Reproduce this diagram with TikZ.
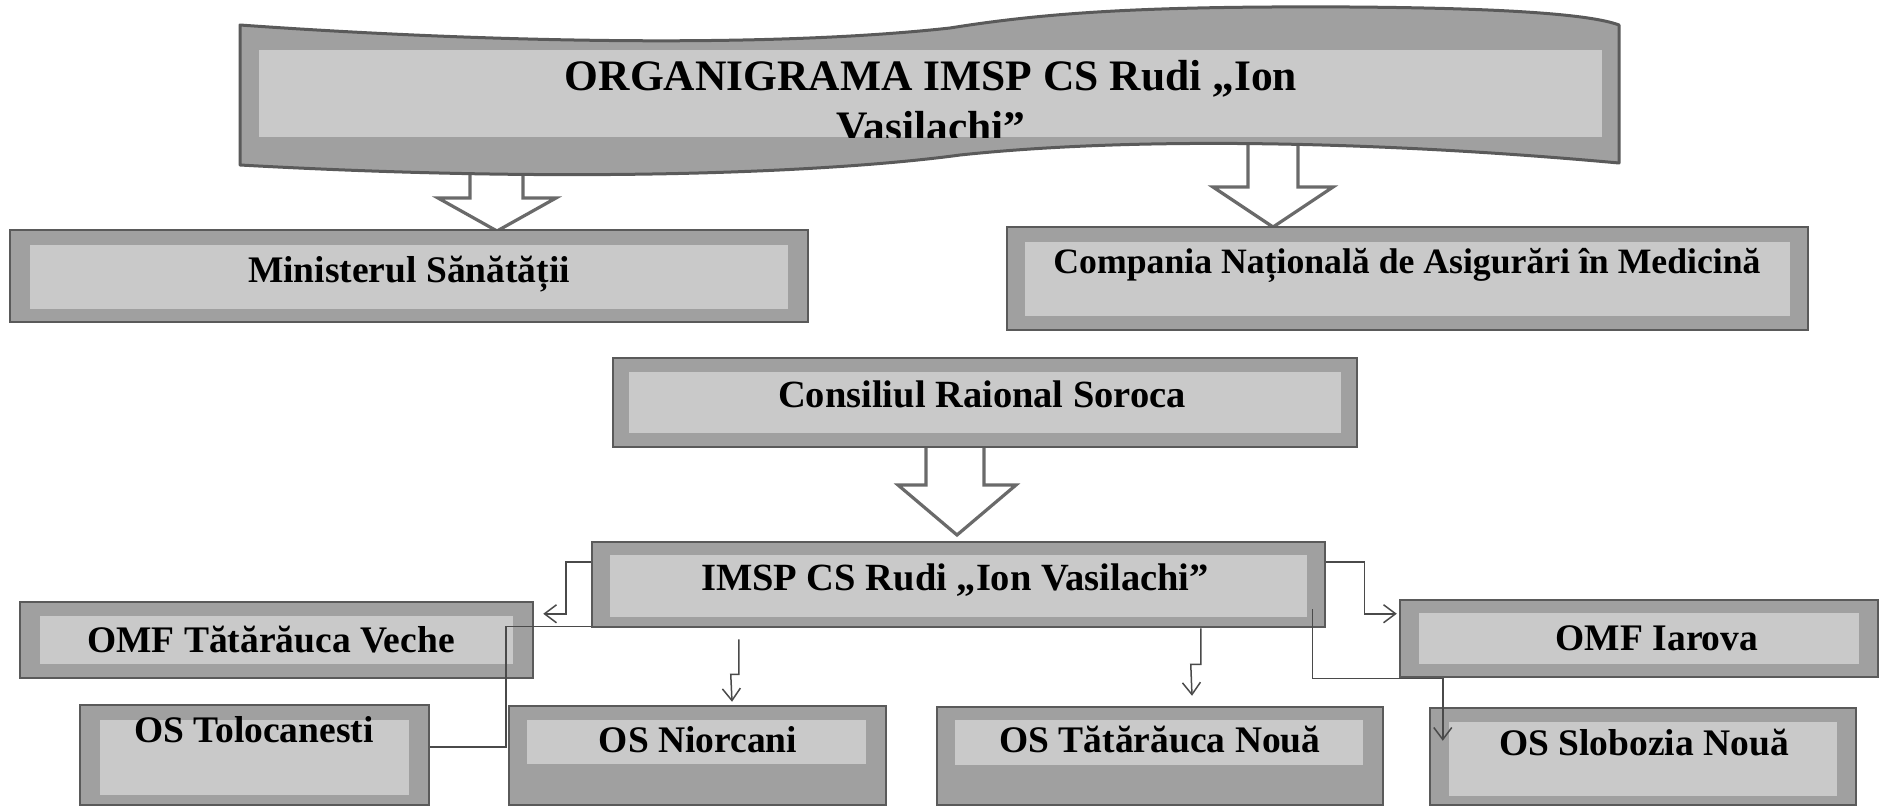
\documentclass[tikz,border=0pt]{standalone}
\usepackage{fontspec}
\setmainfont{Liberation Serif}
\usetikzlibrary{arrows.meta,fit}
\definecolor{frameout}{HTML}{A0A0A0}
\definecolor{framein}{HTML}{C9C9C9}
\definecolor{frameline}{HTML}{5A5A5A}
\definecolor{arrowline}{HTML}{6A6A6A}
\definecolor{connline}{HTML}{4A4A4A}
\tikzset{
 box/.style={draw=frameline, line width=2.5pt, fill=frameout, inner sep=0pt, rectangle},
 band/.style={fill=framein},
 lbl/.style={font=\fontsize{37.5}{40}\selectfont\bfseries, inner sep=0pt, anchor=base, text=black},
 lblbig/.style={lbl, font=\fontsize{38.5}{41}\selectfont\bfseries},
 lblsmall/.style={lbl, font=\fontsize{35.7}{38}\selectfont\bfseries},
 ttl/.style={font=\fontsize{43.5}{46}\selectfont\bfseries, inner sep=0pt, anchor=base, text=black},
 blockarrow/.style={draw=arrowline, line width=3.2pt, fill=white, line join=miter},
 conn/.style={draw=connline, line width=1.5pt},
 arrowend/.style={-{Straight Barb[length=12pt,width=18pt]}},
}
\begin{document}
\begin{tikzpicture}[x=1pt,y=-1pt]
\useasboundingbox (0,0) rectangle (1901,809);
\fill[white] (0,0) rectangle (1901,809);

% hollow block arrows (drawn first, boxes cover their tops)
\draw[blockarrow] (470,150) -- (523,150) -- (523,198) -- (556,198) -- (497,231) -- (438,198) -- (470,198) -- cycle;
\draw[blockarrow] (1248,130) -- (1298,130) -- (1298,187) -- (1333,187) -- (1273,227) -- (1213,187) -- (1248,187) -- cycle;
\draw[blockarrow] (926,440) -- (984,440) -- (984,485) -- (1016,485) -- (957,535) -- (898,485) -- (926,485) -- cycle;

% title banner (wave)
\draw[fill=frameout, draw=frameline, line width=3pt, line join=round]
  (240,25) .. controls (450,40) and (750,50) .. (950,28)
  .. controls (1050,12) and (1150,6) .. (1350,7)
  .. controls (1500,8) and (1590,14) .. (1619,25)
  -- (1619,163)
  .. controls (1400,143) and (1150,135) .. (960,155)
  .. controls (850,170) and (600,185) .. (240,165) -- cycle;
\fill[band] (259,50) rectangle (1602,137);
\begin{scope}
\clip (240,0) rectangle (1619,137);
\node[ttl] (title1) at (931,90) {ORGANIGRAMA IMSP CS Rudi „Ion};
\node[ttl] (title2) at (931,141) {Vasilachi”};
\end{scope}

% Ministerul
\node[box, fit={(10,230) (808,322)}] (min) {};
\fill[band] (30,245) rectangle (788,309);
\node[lbl] (tmin) at (409,282) {Ministerul Sănătății};

% Compania
\node[box, fit={(1007,227) (1808,330)}] (cnam) {};
\fill[band] (1025,242) rectangle (1790,316);
\node[lblsmall] (tcnam) at (1407,273) {Compania Națională de Asigurări în Medicină};

% Consiliul
\node[box, fit={(613,358) (1357,447)}] (cons) {};
\fill[band] (629,372) rectangle (1341,433);
\node[lblbig] (tcons) at (982,407) {Consiliul Raional Soroca};

% IMSP
\node[box, fit={(592,542) (1325,627)}] (imsp) {};
\fill[band] (610,555) rectangle (1307,617);
\node[lblbig] (timsp) at (955,590) {IMSP CS Rudi „Ion Vasilachi”};

% OMF Tatarauca Veche
\node[box, fit={(20,602) (533,678)}] (omfv) {};
\fill[band] (40,616) rectangle (513,664);
\node[lbl] (tomfv) at (271,652) {OMF Tătărăuca Veche};

% OMF Iarova
\node[box, fit={(1400,600) (1878,677)}] (omfi) {};
\fill[band] (1419,613) rectangle (1859,664);
\node[lbl] (tomfi) at (1657,650) {OMF Iarova};

% OS boxes
\node[box, fit={(80,705) (429,805)}] (tolo) {};
\fill[band] (100,720) rectangle (409,795);
\node[lbl] (ttolo) at (254,742) {OS Tolocanesti};

\node[box, fit={(509,706) (886,805)}] (nior) {};
\fill[band] (527,720) rectangle (866,764);
\node[lbl] (tnior) at (698,752) {OS Niorcani};

\node[box, fit={(937,707) (1383,805)}] (nou) {};
\fill[band] (955,720) rectangle (1363,765);
\node[lbl] (tnou) at (1160,752) {OS Tătărăuca Nouă};

\node[box, fit={(1430,708) (1856,805)}] (slob) {};
\fill[band] (1449,722) rectangle (1837,796);
\node[lbl] (tslob) at (1644,755) {OS Slobozia Nouă};

% connectors
\draw[conn, arrowend] ([yshift=-21pt]imsp.north west) -- ++(-25,0) |- ([xshift=9pt,yshift=-13pt]omfv.north east);
\draw[conn] ([yshift=2pt]imsp.south west) -- ++(-85,0) |- ([yshift=8pt]tolo.east);
\draw[conn, arrowend] ([xshift=148pt,yshift=-11pt]imsp.south west) -- ++(0,35) -- ++(-8,0) -- ([xshift=34.5pt,yshift=3pt]nior.north);
\draw[conn, arrowend] ([xshift=610pt]imsp.south west) -- ++(0,36) -- ++(-10,0) -- ([xshift=32pt,yshift=10pt]nou.north);
\draw[conn, arrowend] ([yshift=-21pt]imsp.north east) -- ++(38,0) |- ([xshift=-2pt,yshift=-15pt]omfi.north west);
\draw[conn, arrowend] ([xshift=-14pt,yshift=19pt]imsp.south east) |- ([xshift=44pt]omfi.south west) -- ([xshift=14pt,yshift=-34pt]slob.north west);
\end{tikzpicture}
\end{document}
